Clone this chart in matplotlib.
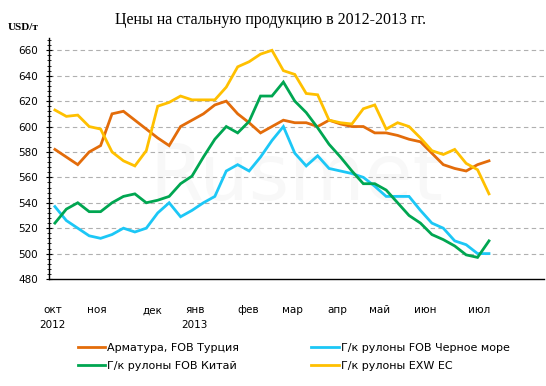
import matplotlib
matplotlib.use("Agg")
import matplotlib.pyplot as plt
import numpy as np
from matplotlib.ticker import MultipleLocator

# weekly prices, USD/t, Oct 2012 - Jun 2013
rebar_turkey = [582, 576, 570, 580, 585, 610, 612, 605, 598, 591, 585, 600, 605, 610, 617, 620,
                610, 603, 595, 600, 605, 603, 603, 600, 605, 602, 600, 600, 595, 595, 593, 590,
                588, 579, 570, 567, 565, 570, 573]
hrc_black_sea = [537, 526, 520, 514, 512, 515, 520, 517, 520, 532, 540, 529, 534, 540, 545, 565,
                 570, 565, 576, 589, 600, 579, 569, 577, 567, 565, 563, 560, 553, 545, 545, 545,
                 534, 524, 520, 510, 507, 500, 500]
hrc_china = [524, 535, 540, 533, 533, 540, 545, 547, 540, 542, 545, 555, 561, 576, 590, 600,
             595, 604, 624, 624, 635, 620, 611, 599, 586, 576, 565, 555, 555, 550, 540, 530,
             524, 515, 511, 506, 499, 497, 510]
hrc_exw_eu = [613, 608, 609, 600, 598, 580, 573, 569, 581, 616, 619, 624, 621, 621, 621, 631,
              647, 651, 657, 660, 644, 641, 626, 625, 605, 603, 602, 614, 617, 598, 603, 600,
              591, 581, 578, 582, 571, 566, 547]

month_labels = ["окт\n2012", "ноя", "дек", "янв\n2013", "фев", "мар", "апр", "май", "июн", "июл"]
month_pos = [-0.2, 3.7, 8.5, 12.25, 16.9, 20.8, 24.7, 28.4, 32.4, 37.1]

series = [
    ("Арматура, FOB Турция", rebar_turkey, "#E36C0A"),
    ("Г/к рулоны FOB Черное море", hrc_black_sea, "#1CC7F6"),
    ("Г/к рулоны FOB Китай", hrc_china, "#00A651"),
    ("Г/к рулоны EXW ЕС", hrc_exw_eu, "#FFC000"),
]

fig = plt.figure(figsize=(5.46, 3.86), dpi=100)
ax = fig.add_axes([0.0897, 0.2772, 0.9063, 0.6254])

# faint watermark
ax.text(0.5, 0.42, "Rusmet", transform=ax.transAxes, fontsize=56, color="#f8f8f8",
        ha="center", va="center", zorder=0)

lines = {}
for name, vals, color in series:
    x = np.arange(len(vals))
    (ln,) = ax.plot(x, vals, color=color, lw=2.0, label=name, zorder=3,
                    solid_joinstyle="miter")
    lines[name] = ln

ax.set_ylim(480, 670)
ax.set_xlim(-0.52, 42.8)
ax.set_yticks(np.arange(480, 661, 20))
ax.yaxis.set_minor_locator(MultipleLocator(4))
for v in range(500, 661, 20):
    ax.axhline(v, color="#b0b0b0", lw=0.8, ls=(0, (4, 3)), zorder=1)

ax.set_xticks(month_pos)
ax.set_xticklabels(month_labels, fontsize=7.5, va="top", linespacing=1.6)
ax.tick_params(axis="x", length=0, pad=19)
ax.tick_params(axis="y", which="major", length=4, width=0.8, labelsize=7.5, pad=6)
ax.tick_params(axis="y", which="minor", length=3, width=0.6)
ax.tick_params(axis="y", which="both", direction="inout")

for s in ["top", "right"]:
    ax.spines[s].set_visible(False)
for s in ["left", "bottom"]:
    ax.spines[s].set_linewidth(1.0)
    ax.spines[s].set_color("black")

fig.text(0.495, 0.948, "Цены на стальную продукцию в 2012-2013 гг.", ha="center", va="center",
         fontsize=11.5, family="Liberation Serif")
fig.text(0.015, 0.928, "USD/т", ha="left", va="center", fontsize=8, fontweight="bold",
         family="Liberation Serif")

order = ["Арматура, FOB Турция", "Г/к рулоны FOB Китай",
         "Г/к рулоны FOB Черное море", "Г/к рулоны EXW ЕС"]
fig.legend([lines[n] for n in order], order, ncol=2, loc="center",
           bbox_to_anchor=(0.5376, 0.075), frameon=False, fontsize=8,
           handlelength=2.5, handletextpad=0.15, columnspacing=6.5, labelspacing=0.75)

fig.savefig("out.png", dpi=100)
